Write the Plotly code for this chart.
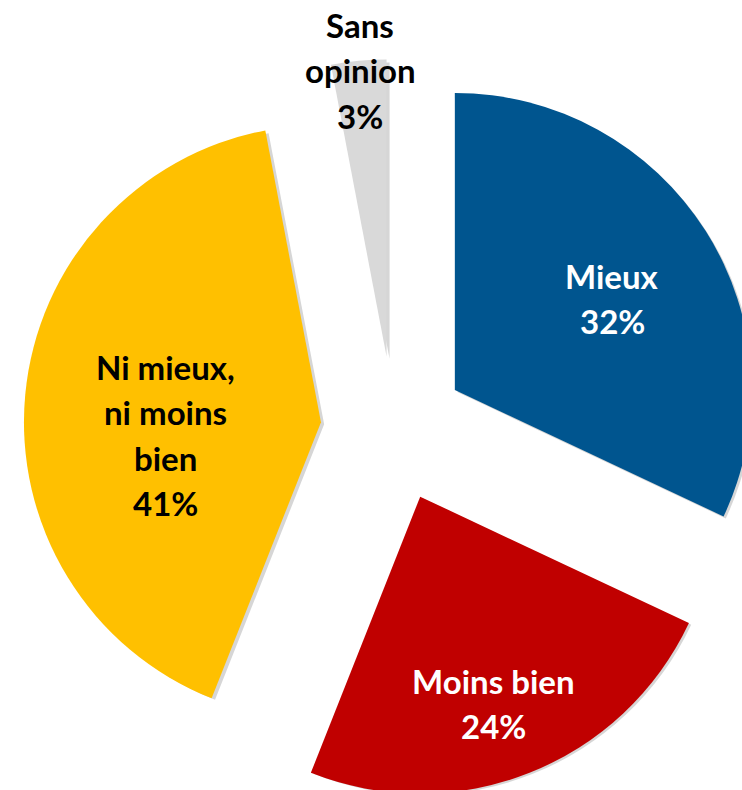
import math
import plotly.graph_objects as go

# ---- data ----
labels = ["Mieux", "Moins bien", "Ni mieux, ni moins bien", "Sans opinion"]
label_lines = [["Mieux"], ["Moins bien"], ["Ni mieux,", "ni moins", "bien"], ["Sans", "opinion"]]
values = [32, 24, 41, 3]

# ---- style ----
colors = ["#00558F", "#C00000", "#FFC000", "#D9D9D9"]
text_colors = ["#FFFFFF", "#FFFFFF", "#000000", "#000000"]
label_radius = [0.857, 0.985, 0.769, 1.213]   # label distance from pie centre, in radii
label_shift = [1.6, 1.5, -6.9, 0.1]            # label angle offset from slice middle (deg)
LINE_H = 45.5
FONT = dict(family="Lato", size=33, weight="bold")
PULL = 0.245

W, H = 770, 800          # figure size (page is 742x790, rest is clipped)
CX, CY = 393.4, 429.0    # pie centre on the page (px)
R = 297.0                # slice radius (px)
SH = 3                   # shadow offset (px)

half = R * (1 + PULL)
fx, fy = CX, CY


def dom(cx, cy):
    return dict(x=[max(0, (cx - half) / W), min(1, (cx + half) / W)],
                y=[max(0, 1 - (cy + half) / H), min(1, 1 - (cy - half) / H)])


pie_common = dict(
    labels=labels, values=values, sort=False, direction="clockwise",
    rotation=0, pull=[PULL] * len(values), textinfo="none", showlegend=False,
)

fig = go.Figure()
# soft shadow underneath
fig.add_trace(go.Pie(
    **pie_common,
    marker=dict(colors=["#D2D2D2"] * len(values), line=dict(width=0)),
    hoverinfo="skip", opacity=0.9,
    domain=dom(fx + SH, fy + SH),
))
fig.add_trace(go.Pie(
    **pie_common,
    marker=dict(colors=colors, line=dict(width=0)),
    hoverinfo="label+percent",
    domain=dom(fx, fy),
))

total = sum(values)
annotations = []
cum = 0
for lines, v, tc, lr, ls in zip(label_lines, values, text_colors, label_radius, label_shift):
    mid = (cum + v / 2) / total * 2 * math.pi + math.radians(ls)
    cum += v
    px = fx + math.sin(mid) * R * lr
    py = fy - math.cos(mid) * R * lr
    all_lines = lines + [f"{round(v / total * 100)}%"]
    n = len(all_lines)
    for i, t in enumerate(all_lines):
        ly = py + (i - (n - 1) / 2) * LINE_H
        annotations.append(dict(
            x=px / W, y=1 - ly / H, xref="paper", yref="paper",
            text=t, showarrow=False, xanchor="center", yanchor="middle",
            font=dict(**FONT, color=tc),
        ))

fig.update_layout(
    width=W, height=H,
    margin=dict(l=0, r=0, t=0, b=0),
    paper_bgcolor="white",
    plot_bgcolor="white",
    annotations=annotations,
)

# page: no body margin, no scrollbars (the oversized pie is clipped by the window)
fig.write_html(
    "out.html",
    config={"displayModeBar": False},
    post_script="document.body.style.margin='0';"
                "document.body.style.overflow='hidden';"
                "document.documentElement.style.overflow='hidden';",
)
